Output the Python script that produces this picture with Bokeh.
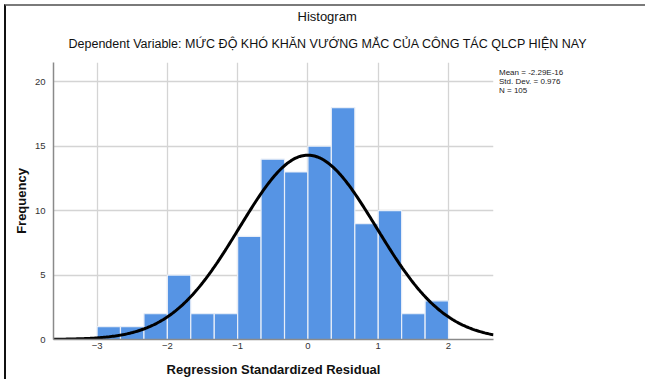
import math
from bokeh.plotting import figure
from bokeh.models import FixedTicker, Range1d, ColumnDataSource, Title, Legend, LegendItem
from bokeh.embed import file_html
from bokeh.resources import INLINE

# ---- data ----
bin_left = [-3.0, -2.667, -2.333, -2.0, -1.667, -1.333, -1.0, -0.667, -0.333, 0.0, 0.333, 0.667, 1.0, 1.333, 1.667]
bin_right = [-2.667, -2.333, -2.0, -1.667, -1.333, -1.0, -0.667, -0.333, 0.0, 0.333, 0.667, 1.0, 1.333, 1.667, 2.0]
counts = [1, 1, 2, 5, 2, 2, 8, 14, 13, 15, 18, 9, 10, 2, 3]
x_ticks = [-3, -2, -1, 0, 1, 2]
y_ticks = [0, 5, 10, 15, 20]
stat_mean = -2.29e-16
stat_sd = 0.976
stat_n = 105
stats_lines = ["Mean = -2.29E-16", "Std. Dev. = 0.976", "N = 105"]
title_text = "Histogram"
subtitle_text = "Dependent Variable: MỨC ĐỘ KHÓ KHĂN VƯỚNG MẮC CỦA CÔNG TÁC QLCP HIỆN NAY"
x_label = "Regression Standardized Residual"
y_label = "Frequency"

FONT = "Liberation Sans"
x0, x1 = -3.62, 2.64
y0, y1 = 0, 21.5

p = figure(width=639, height=375, output_backend="svg", toolbar_location=None,
           x_range=Range1d(x0, x1), y_range=Range1d(y0, y1),
           frame_width=440, frame_height=277,
           min_border_left=47, min_border_right=146, min_border_top=56, min_border_bottom=36,
           background_fill_color="white", border_fill_color="white",
           title=title_text)
p.styles = {"margin-left": "4px", "margin-top": "4px",
            "border-left": "2px solid #111111", "border-top": "2px solid #7a7a7a"}
p.outline_line_color = None
p.title.text_font = FONT
p.title.text_font_size = "13px"
p.title.text_font_style = "normal"
p.title.text_color = "#111111"
p.title.align = "left"
p.title.offset = 244
p.title.standoff = -1
p.add_layout(Title(text=subtitle_text, text_font=FONT, text_font_size="12.5px", text_font_style="normal",
                   text_color="#111111", align="left", offset=15, standoff=23), "above")

src = ColumnDataSource(dict(left=bin_left, right=bin_right, top=counts, bottom=[0] * len(counts)))
p.quad(left="left", right="right", top="top", bottom="bottom", source=src,
       fill_color="#5694e4", line_color="#e8eef8", line_width=1.2)

# fitted normal curve from the stated statistics
bw = (bin_right[-1] - bin_left[0]) / len(counts)
xs = [x0 + i * (x1 - x0) / 300 for i in range(301)]
ys = [stat_n * bw * math.exp(-0.5 * ((x - stat_mean) / stat_sd) ** 2) / (stat_sd * math.sqrt(2 * math.pi)) for x in xs]
p.line(xs, ys, line_color="black", line_width=3)

for ax in (p.xaxis[0], p.yaxis[0]):
    ax.major_tick_line_color = None
    ax.minor_tick_line_color = None
    ax.axis_line_color = "#8a8a8a"
    ax.axis_line_width = 1.5
    ax.major_label_text_font = FONT
    ax.major_label_text_font_size = "9.5px"
    ax.major_label_text_color = "#333333"
    ax.axis_label_text_font = FONT
    ax.axis_label_text_font_size = "13px"
    ax.axis_label_text_font_style = "bold"
    ax.axis_label_text_color = "#111111"

p.xaxis.ticker = FixedTicker(ticks=x_ticks)
p.yaxis.ticker = FixedTicker(ticks=y_ticks)
p.xaxis.axis_label = x_label
p.yaxis.axis_label = y_label
p.xaxis.major_label_standoff = -3
p.xaxis.axis_label_standoff = 10
p.yaxis.major_label_standoff = 2
p.yaxis.axis_label_standoff = 3

p.xgrid.ticker = FixedTicker(ticks=x_ticks)
p.ygrid.ticker = FixedTicker(ticks=y_ticks)
p.grid.grid_line_color = "#d4d4d4"
p.grid.grid_line_width = 1.3
p.grid.level = "underlay"

# statistics box as a legend of text-only entries in the right panel
dummy = p.scatter([], [], alpha=0)
legend = Legend(items=[LegendItem(label=s, renderers=[dummy]) for s in stats_lines],
                location="top_left", margin=6, padding=0, spacing=-1,
                glyph_width=0, glyph_height=8, label_height=8, label_standoff=0,
                label_text_font=FONT, label_text_font_size="8px", label_text_line_height=1.0,
                label_text_color="#222222",
                border_line_color=None, background_fill_alpha=0)
p.add_layout(legend, "right")

open("out.html", "w").write(file_html(p, INLINE))
